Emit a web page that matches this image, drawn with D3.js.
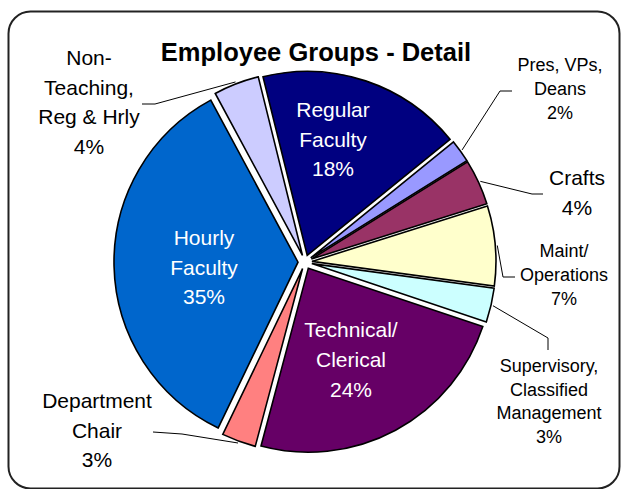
<!DOCTYPE html>
<html>
<head>
<meta charset="utf-8">
<script src="https://cdnjs.cloudflare.com/ajax/libs/d3/7.8.5/d3.min.js"></script>
<style>
  html, body { margin: 0; padding: 0; background: #fff; }
  svg { display: block; }
  text { font-family: "Liberation Sans", Arial, sans-serif; }
</style>
</head>
<body>
<svg id="chart" width="621" height="489"></svg>
<script>
// ---------------- data ----------------
const title = "Employee Groups - Detail";
const categories = [
  "Regular Faculty", "Pres, VPs, Deans", "Crafts", "Maint/ Operations",
  "Supervisory, Classified Management", "Technical/ Clerical",
  "Department Chair", "Hourly Faculty", "Non-Teaching, Reg & Hrly"
];
const values = [18, 2, 4, 7, 3, 24, 3, 35, 4];
const labelLines = [
  ["Regular", "Faculty"],
  ["Pres, VPs,", "Deans"],
  ["Crafts"],
  ["Maint/", "Operations"],
  ["Supervisory,", "Classified", "Management"],
  ["Technical/", "Clerical"],
  ["Department", "Chair"],
  ["Hourly", "Faculty"],
  ["Non-", "Teaching,", "Reg & Hrly"]
];
const colors = ["#000080", "#9999FF", "#993366", "#FFFFCC", "#CCFFFF",
                "#660066", "#FF8080", "#0066CC", "#CCCCFF"];

// ---------------- layout ----------------
const cx = 305, cy = 262, R = 184, explode = 7;
const startDeg = -13.9;
// label anchor: [centerX, firstBaseline, fontSize, lineHeight, fill]
const labelLayout = [
  [333, 117, 21, 29.5, "#fff"],
  [560, 71, 18, 23.8, "#000"],
  [577, 185, 21, 30, "#000"],
  [564, 257, 18, 24, "#000"],
  [549, 372, 18, 23.7, "#000"],
  [351, 337, 21, 30, "#fff"],
  [97, 408, 21, 29.5, "#000"],
  [204, 245, 21, 29.5, "#fff"],
  [89, 65, 21, 29.7, "#000"]
];
// leader line elbows (label side), null = no leader
const leaderLayout = [
  null,
  [[512, 91], [500, 91]],
  [[543, 194], [532, 194]],
  [[515, 277], [503, 277]],
  [[548, 350], [548, 338]],
  null,
  [[153, 432], [182, 434]],
  null,
  [[142, 104], [155, 104]]
];

const svg = d3.select("#chart");

// frame
svg.append("rect")
  .attr("x", 8.5).attr("y", 11.5)
  .attr("width", 611).attr("height", 477)
  .attr("rx", 22).attr("ry", 22)
  .attr("fill", "#fff").attr("stroke", "#222").attr("stroke-width", 2);

// title
svg.append("text")
  .attr("x", 316).attr("y", 61)
  .attr("text-anchor", "middle")
  .attr("font-size", 25.5).attr("font-weight", "bold")
  .attr("fill", "#000")
  .text(title);

const start = startDeg * Math.PI / 180;
const pie = d3.pie().sort(null).value(d => d)
  .startAngle(start).endAngle(start + 2 * Math.PI);
const arcs = pie(values);
const arc = d3.arc().innerRadius(0).outerRadius(R);

function offsetOf(a) {
  const mid = (a.startAngle + a.endAngle) / 2;
  return [explode * Math.sin(mid), -explode * Math.cos(mid)];
}

const g = svg.append("g").attr("transform", `translate(${cx},${cy})`);
g.selectAll("path.slice")
  .data(arcs)
  .join("path")
  .attr("class", "slice")
  .attr("transform", d => { const o = offsetOf(d); return `translate(${o[0]},${o[1]})`; })
  .attr("d", arc)
  .attr("fill", (d, i) => colors[i])
  .attr("stroke", "#000")
  .attr("stroke-width", 1.6)
  .attr("stroke-linejoin", "miter");

// leader lines
arcs.forEach((a, i) => {
  const L = leaderLayout[i];
  if (!L) return;
  const mid = (a.startAngle + a.endAngle) / 2;
  const o = offsetOf(a);
  const sx = cx + o[0] + (R + 2) * Math.sin(mid);
  const sy = cy + o[1] - (R + 2) * Math.cos(mid);
  const pts = [L[0], L[1], [sx, sy]];
  svg.append("path")
    .attr("d", d3.line()(pts))
    .attr("fill", "none")
    .attr("stroke", "#000")
    .attr("stroke-width", 1);
});

// labels
arcs.forEach((a, i) => {
  const [x, y, fs, lh, fill] = labelLayout[i];
  const lines = labelLines[i].concat([values[i] + "%"]);
  const t = svg.append("text")
    .attr("text-anchor", "middle")
    .attr("font-size", fs)
    .attr("fill", fill);
  lines.forEach((s, k) => {
    t.append("tspan").attr("x", x).attr("y", y + k * lh).text(s);
  });
});
</script>
</body>
</html>
